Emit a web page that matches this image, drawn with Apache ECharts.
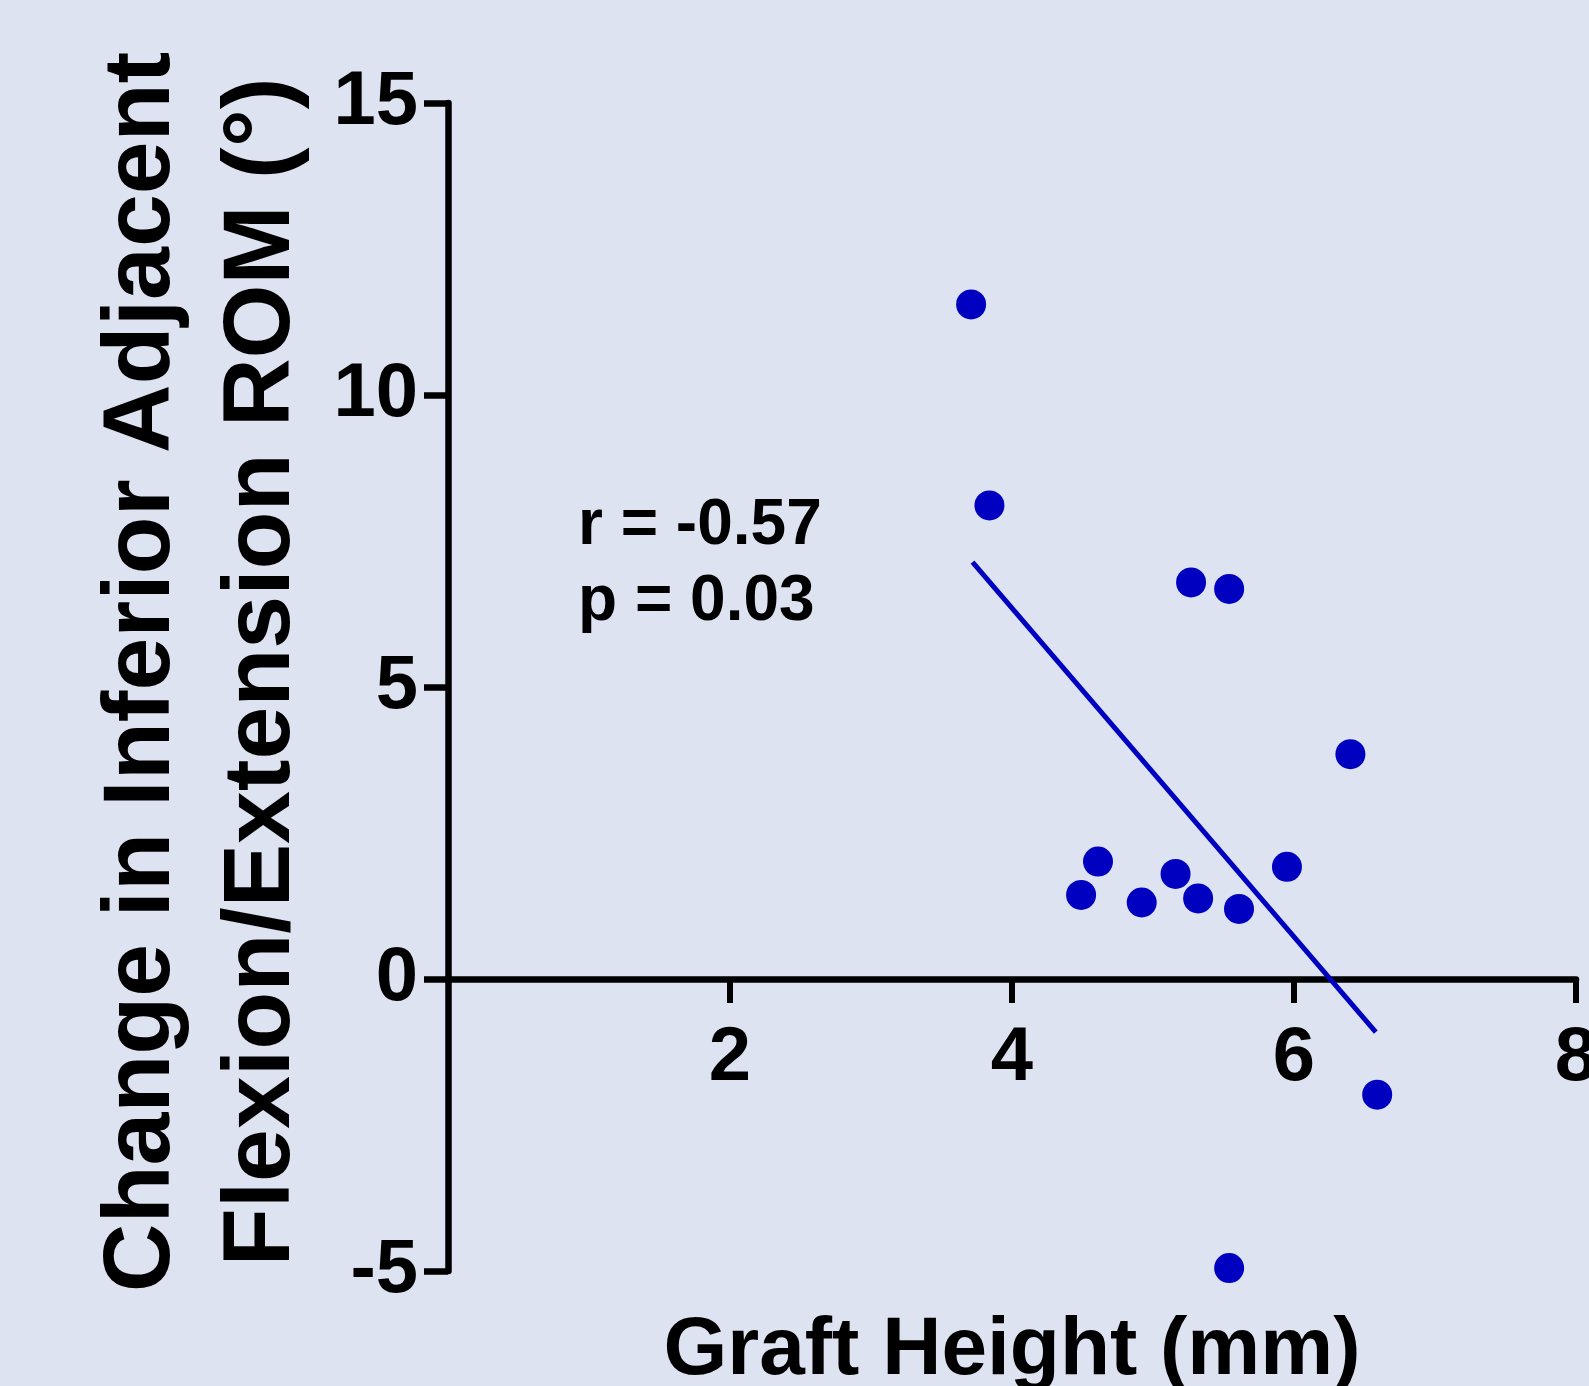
<!DOCTYPE html>
<html>
<head>
<meta charset="utf-8">
<script src="https://cdn.jsdelivr.net/npm/echarts@6/dist/echarts.min.js"></script>
<style>
  html, body { margin: 0; padding: 0; background: #dee3f1; }
  #chart { width: 1589px; height: 1386px; }
</style>
</head>
<body>
<div id="chart"></div>
<script>
// Data
const graftHeight = [3.71, 3.84, 5.27, 5.54, 4.61, 4.49, 4.92, 5.16, 5.32, 5.61, 5.95, 6.59, 5.54, 6.40];
const romChange   = [11.55, 8.11, 6.79, 6.68, 2.01, 1.44, 1.31, 1.80, 1.38, 1.20, 1.92, -1.98, -4.95, 3.85];
const fitLineX = [3.72, 6.58];
const fitLineY = [7.14, -0.91];
const xTickValues = [2, 4, 6, 8];
const yTickValues = [-5, 0, 5, 10, 15];
const xTitle = 'Graft Height (mm)';
const yTitleLines = ['Change in Inferior Adjacent', 'Flexion/Extension ROM (°)'];
const statLines = ['r = -0.57', 'p = 0.03'];

const FONT = "'Liberation Sans', Arial, sans-serif";
const BLUE = '#0000c0';

const GRID_TOP = 103, GRID_BOTTOM = 115, CH = 1386;
const gridHeight = CH - GRID_TOP - GRID_BOTTOM;
const yMin = -5, yMax = 15;
// move x axis up from the grid bottom to where y = 0
const xAxisOffset = -gridHeight * (0 - yMin) / (yMax - yMin);

const chart = echarts.init(document.getElementById('chart'), null, { renderer: 'canvas' });

const points = graftHeight.map((x, i) => [x, romChange[i]]);
const fitPoints = fitLineX.map((x, i) => [x, fitLineY[i]]);

chart.setOption({
  backgroundColor: '#dee3f1',
  animation: false,
  grid: { left: 448, right: 13, top: GRID_TOP, bottom: GRID_BOTTOM, containLabel: false, outerBoundsMode: 'none' },
  xAxis: {
    type: 'value', min: 0, max: 8, interval: 2,
    position: 'bottom', offset: xAxisOffset,
    axisLine: { show: true, onZero: false, lineStyle: { color: '#000', width: 6.5 } },
    axisTick: { show: true, length: 24, lineStyle: { color: '#000', width: 6 }, customValues: xTickValues },
    axisLabel: { show: true, customValues: xTickValues, margin: 42, color: '#000', fontFamily: FONT, fontWeight: 'bold', fontSize: 76, hideOverlap: false },
    splitLine: { show: false }
  },
  yAxis: {
    type: 'value', min: yMin, max: yMax, interval: 5,
    axisLine: { show: true, onZero: false, lineStyle: { color: '#000', width: 6.5 } },
    axisTick: { show: true, length: 24, lineStyle: { color: '#000', width: 6.5 }, customValues: yTickValues },
    axisLabel: { show: true, customValues: yTickValues, margin: 30, color: '#000', fontFamily: FONT, fontWeight: 'bold', fontSize: 76 },
    splitLine: { show: false }
  },
  graphic: [
    {
      type: 'text', x: 203, y: 672, rotation: Math.PI / 2,
      style: { text: yTitleLines.join('\n'), fill: '#000', font: "bold 95px " + FONT, lineHeight: 120, align: 'center', verticalAlign: 'middle' }
    },
    {
      type: 'text', x: 1012, y: 1351,
      style: { text: xTitle, fill: '#000', font: "bold 82px " + FONT, align: 'center', verticalAlign: 'middle' }
    },
    {
      type: 'text', x: 578, y: 526,
      style: { text: statLines[0], fill: '#000', font: "bold 64px " + FONT, align: 'left', verticalAlign: 'middle' }
    },
    {
      type: 'text', x: 578, y: 602,
      style: { text: statLines[1], fill: '#000', font: "bold 64px " + FONT, align: 'left', verticalAlign: 'middle' }
    }
  ],
  series: [
    {
      type: 'line', data: fitPoints, symbol: 'none', z: 2,
      lineStyle: { color: BLUE, width: 5 }, silent: true
    },
    {
      type: 'scatter', data: points, symbol: 'circle', symbolSize: 30, z: 3,
      itemStyle: { color: BLUE, opacity: 1 }
    }
  ]
});
</script>
</body>
</html>
